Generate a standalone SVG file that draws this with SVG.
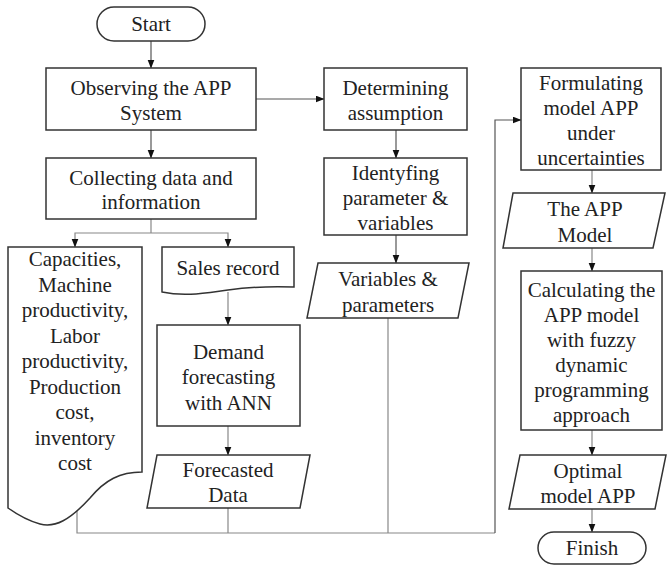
<svg xmlns="http://www.w3.org/2000/svg" width="667" height="565" viewBox="0 0 667 565">
<style>
.s{fill:#fff;stroke:#333;stroke-width:1.5}
.t{font-size:21px;fill:#222;text-anchor:middle}
.c{fill:none;stroke:#555;stroke-width:1.2}
.g{fill:none;stroke:#888;stroke-width:1.2}
</style>
<defs>
<marker id="a" markerUnits="userSpaceOnUse" markerWidth="9" markerHeight="8" refX="8.5" refY="3.5" orient="auto">
<path d="M0,0 L9,3.5 L0,7 z" fill="#111"/>
</marker>
</defs>
<rect width="667" height="565" fill="#fff"/>
<g id="connectors">
<path class="c" d="M151,41 V68" marker-end="url(#a)"/>
<path class="c" d="M151,130 V158" marker-end="url(#a)"/>
<path class="c" d="M256,99 H324" marker-end="url(#a)"/>
<path class="c" d="M396,130 V158" marker-end="url(#a)"/>
<path class="c" d="M396,235 V263" marker-end="url(#a)"/>
<path class="g" d="M151,219 V233"/>
<path class="g" d="M151,233 H75 V247" marker-end="url(#a)"/>
<path class="g" d="M151,233 H228 V247" marker-end="url(#a)"/>
<path class="g" d="M228,292 V325" marker-end="url(#a)"/>
<path class="g" d="M228,426 V455" marker-end="url(#a)"/>
<path class="g" d="M77,510 V533 H495"/>
<path class="g" d="M228,508 V533"/>
<path class="g" d="M388,318 V533"/>
<path class="c" d="M495,533 V120 H521" marker-end="url(#a)"/>
<path class="g" d="M592,170 V193" marker-end="url(#a)"/>
<path class="g" d="M592,248 V271" marker-end="url(#a)"/>
<path class="g" d="M592,430 V455" marker-end="url(#a)"/>
<path class="g" d="M592,509 V532" marker-end="url(#a)"/>
</g>
<g id="start">
<rect class="s" x="97" y="7" width="108" height="34" rx="17"/>
<text class="t" font-family="Liberation Serif" x="151" y="31">Start</text>
</g>
<g id="observing">
<rect class="s" x="46" y="68" width="210" height="62"/>
<text class="t" font-family="Liberation Serif" x="151" y="95">Observing the APP</text>
<text class="t" font-family="Liberation Serif" x="151" y="120">System</text>
</g>
<g id="collecting">
<rect class="s" x="46" y="158" width="210" height="61"/>
<text class="t" font-family="Liberation Serif" x="151" y="185">Collecting data and</text>
<text class="t" font-family="Liberation Serif" x="151" y="209">information</text>
</g>
<g id="capacities">
<path class="s" d="M8,247 H142 V472 C120,472 105,480 90,498 C70,520 55,528 40,524 C25,520 15,513 8,508 Z"/>
<text class="t" font-family="Liberation Serif" x="75" y="266">Capacities,</text>
<text class="t" font-family="Liberation Serif" x="75" y="291.5">Machine</text>
<text class="t" font-family="Liberation Serif" x="75" y="317">productivity,</text>
<text class="t" font-family="Liberation Serif" x="75" y="342.5">Labor</text>
<text class="t" font-family="Liberation Serif" x="75" y="368">productivity,</text>
<text class="t" font-family="Liberation Serif" x="75" y="393.5">Production</text>
<text class="t" font-family="Liberation Serif" x="75" y="419">cost,</text>
<text class="t" font-family="Liberation Serif" x="75" y="444.5">inventory</text>
<text class="t" font-family="Liberation Serif" x="75" y="470">cost</text>
</g>
<g id="sales">
<path class="s" d="M162,247 H294 V287 C270,286 250,287 228,290 C205,293 185,297 162,292 Z"/>
<text class="t" font-family="Liberation Serif" x="228" y="275">Sales record</text>
</g>
<g id="demand">
<rect class="s" x="157" y="325" width="143" height="101"/>
<text class="t" font-family="Liberation Serif" x="228.5" y="359">Demand</text>
<text class="t" font-family="Liberation Serif" x="228.5" y="384">forecasting</text>
<text class="t" font-family="Liberation Serif" x="228.5" y="410">with ANN</text>
</g>
<g id="forecasted">
<path class="s" d="M157,455 H310 L300,508 H147 Z"/>
<text class="t" font-family="Liberation Serif" x="228" y="477">Forecasted</text>
<text class="t" font-family="Liberation Serif" x="228" y="502">Data</text>
</g>
<g id="determining">
<rect class="s" x="324" y="68" width="143" height="62"/>
<text class="t" font-family="Liberation Serif" x="395.5" y="95">Determining</text>
<text class="t" font-family="Liberation Serif" x="395.5" y="120">assumption</text>
</g>
<g id="identyfing">
<rect class="s" x="324" y="158" width="143" height="77"/>
<text class="t" font-family="Liberation Serif" x="395.5" y="180">Identyfing</text>
<text class="t" font-family="Liberation Serif" x="395.5" y="205">parameter &amp;</text>
<text class="t" font-family="Liberation Serif" x="395.5" y="230">variables</text>
</g>
<g id="variables">
<path class="s" d="M318,263 H469 L458,318 H307 Z"/>
<text class="t" font-family="Liberation Serif" x="388" y="286">Variables &amp;</text>
<text class="t" font-family="Liberation Serif" x="388" y="312">parameters</text>
</g>
<g id="formulating">
<rect class="s" x="521" y="68" width="140" height="102"/>
<text class="t" font-family="Liberation Serif" x="591" y="90">Formulating</text>
<text class="t" font-family="Liberation Serif" x="591" y="115">model APP</text>
<text class="t" font-family="Liberation Serif" x="591" y="140">under</text>
<text class="t" font-family="Liberation Serif" x="591" y="165">uncertainties</text>
</g>
<g id="appmodel">
<path class="s" d="M513,193 H665 L653,248 H503 Z"/>
<text class="t" font-family="Liberation Serif" x="585" y="216">The APP</text>
<text class="t" font-family="Liberation Serif" x="585" y="242">Model</text>
</g>
<g id="calculating">
<rect class="s" x="521" y="271" width="141" height="159"/>
<text class="t" font-family="Liberation Serif" x="591.5" y="297">Calculating the</text>
<text class="t" font-family="Liberation Serif" x="591.5" y="322">APP model</text>
<text class="t" font-family="Liberation Serif" x="591.5" y="347">with fuzzy</text>
<text class="t" font-family="Liberation Serif" x="591.5" y="372">dynamic</text>
<text class="t" font-family="Liberation Serif" x="591.5" y="397">programming</text>
<text class="t" font-family="Liberation Serif" x="591.5" y="422">approach</text>
</g>
<g id="optimal">
<path class="s" d="M520,455 H666 L655,509 H509 Z"/>
<text class="t" font-family="Liberation Serif" x="588" y="478">Optimal</text>
<text class="t" font-family="Liberation Serif" x="588" y="503">model APP</text>
</g>
<g id="finish">
<rect class="s" x="538" y="532" width="108" height="32" rx="16"/>
<text class="t" font-family="Liberation Serif" x="592" y="555">Finish</text>
</g>
</svg>
